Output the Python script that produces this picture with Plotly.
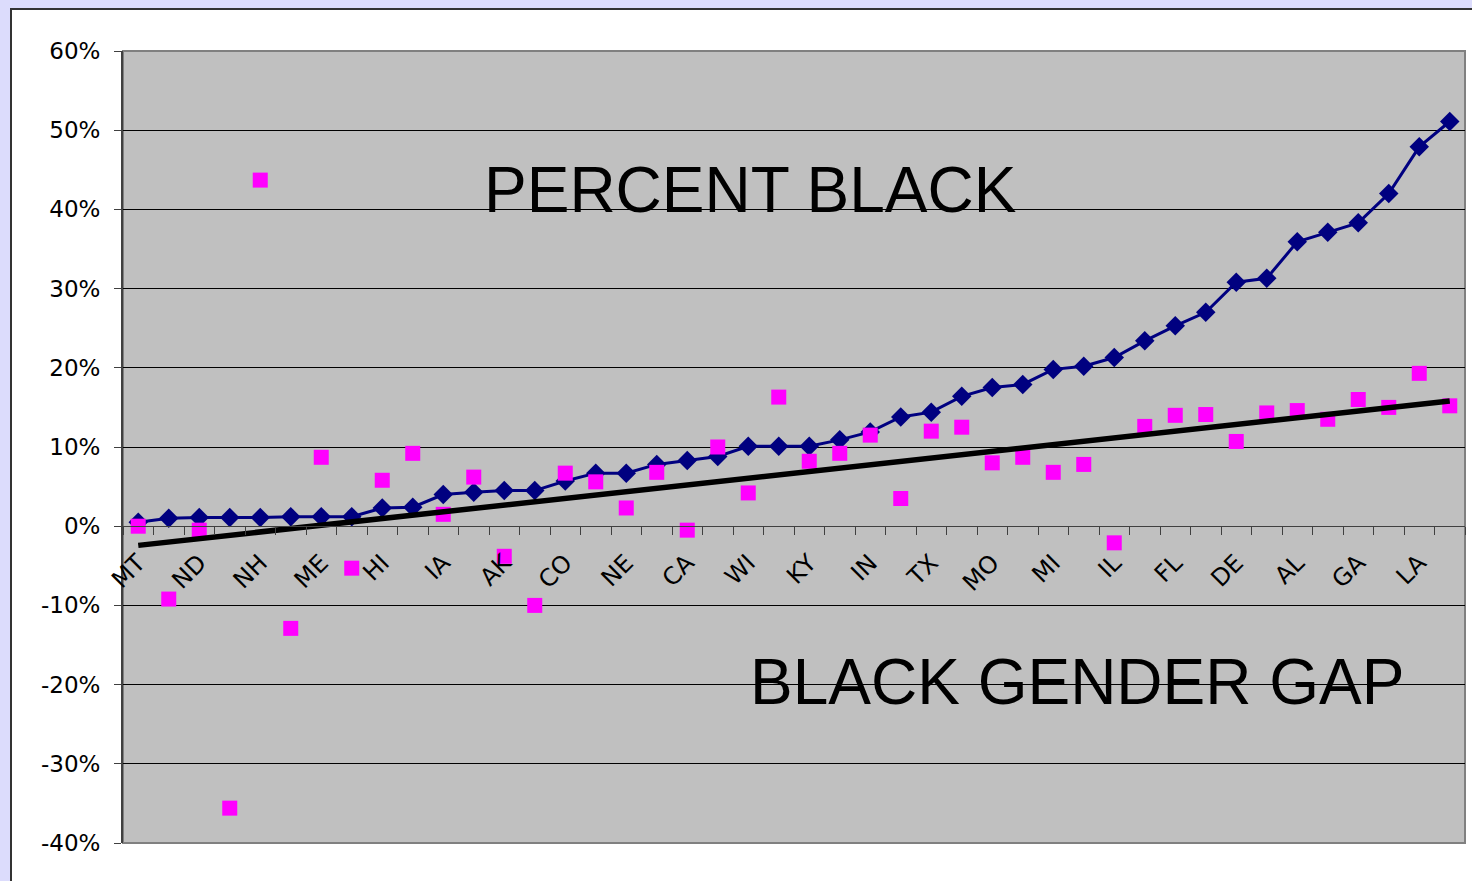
import numpy as np
import plotly.graph_objects as go

# Categories (states sorted by percent Black); only every other one is labelled
states = ["MT", "VT", "ND", "ID", "NH", "UT", "ME", "WY", "HI", "OR",
          "IA", "SD", "AK", "WA", "CO", "NM", "NE", "KS", "CA", "MA",
          "WI", "MN", "KY", "RI", "IN", "OK", "TX", "PA", "MO", "OH",
          "MI", "NJ", "IL", "AR", "FL", "NY", "DE", "TN", "AL", "NC",
          "GA", "SC", "LA", "MS"]
tick_labels = [s if i % 2 == 0 else "" for i, s in enumerate(states)]

# Percent Black (%)
percent_black = [0.5, 1.0, 1.1, 1.1, 1.1, 1.2, 1.2, 1.2, 2.3, 2.4,
                 4.0, 4.3, 4.5, 4.5, 5.7, 6.7, 6.7, 7.8, 8.3, 8.8,
                 10.1, 10.1, 10.1, 10.9, 11.9, 13.8, 14.4, 16.4, 17.5, 17.9,
                 19.8, 20.2, 21.3, 23.4, 25.3, 27.0, 30.8, 31.3, 35.9, 37.1,
                 38.3, 42.0, 47.9, 51.1]

# Black gender gap (%)
gender_gap = [0.0, -9.2, -0.5, -35.6, 43.7, -12.9, 8.7, -5.3, 5.8, 9.2,
              1.5, 6.2, -3.8, -10.0, 6.7, 5.6, 2.3, 6.8, -0.5, 10.0,
              4.2, 16.3, 8.2, 9.2, 11.5, 3.5, 12.0, 12.5, 8.0, 8.7,
              6.8, 7.8, -2.1, 12.6, 14.0, 14.1, 10.7, 14.3, 14.6, 13.5,
              16.0, 15.0, 19.3, 15.2]

y_ticks = [-40, -30, -20, -10, 0, 10, 20, 30, 40, 50, 60]
y_tick_labels = ["-40%", "-30%", "-20%", "-10%", "0%", "10%", "20%",
                 "30%", "40%", "50%", "60%"]

# Linear trendline of the gender gap (as in the spreadsheet's trendline)
idx = np.arange(len(gender_gap))
slope, intercept = np.polyfit(idx, gender_gap, 1)
trend_y = [intercept, intercept + slope * idx[-1]]
trend_x = [states[0], states[-1]]

W, H = 1472, 881
L, R, T, B = 123, 7, 51, 38
pw = W - L - R
ph = H - T - B

fig = go.Figure()
fig.add_trace(go.Scatter(
    x=states, y=percent_black, mode="lines+markers",
    line=dict(color="#000080", width=3),
    marker=dict(symbol="diamond", size=15, color="#000080"),
    name="Percent Black"))
fig.add_trace(go.Scatter(
    x=states, y=gender_gap, mode="markers",
    marker=dict(symbol="square", size=15, color="#FF00FF"),
    name="Black Gender Gap"))
fig.add_trace(go.Scatter(
    x=trend_x, y=trend_y, mode="lines",
    line=dict(color="black", width=5.5),
    name="Trend"))

tickfont = dict(family="DejaVu Sans", size=23, color="black")
xtickfont = dict(family="DejaVu Sans", size=24, color="black")

fig.update_layout(
    width=W, height=H,
    margin=dict(l=L, r=R, t=T, b=B),
    paper_bgcolor="#DCDCFC",
    plot_bgcolor="#C0C0C0",
    showlegend=False,
    xaxis=dict(
        type="category",
        categoryorder="array", categoryarray=states,
        range=[-0.5, len(states) - 0.5],
        anchor="free", position=0.4,
        showgrid=False, zeroline=False,
        showline=True, linecolor="#404040", linewidth=1,
        ticks="outside", ticklen=8, tickcolor="#404040",
        tickson="boundaries",
        tickmode="array", tickvals=states, ticktext=tick_labels,
        tickangle=-45, tickfont=xtickfont,
        ticklabelstandoff=12,
    ),
    yaxis=dict(
        range=[-40, 60],
        tickmode="array", tickvals=y_ticks, ticktext=y_tick_labels,
        showgrid=True, gridcolor="black", gridwidth=1,
        zeroline=False,
        showline=True, linecolor="#404040", linewidth=2,
        ticks="outside", ticklen=7, tickcolor="#404040",
        tickfont=tickfont,
        ticklabelstandoff=9,
    ),
    shapes=[
        dict(type="rect", xref="paper", yref="paper",
             x0=(11 - L) / pw, x1=1.2, y0=-0.2, y1=1 + (T - 9) / ph,
             fillcolor="white", line=dict(color="#333333", width=2),
             layer="below"),
        dict(type="rect", xref="paper", yref="paper",
             x0=0, x1=1, y0=0, y1=1,
             fillcolor="#C0C0C0", line=dict(color="#808080", width=2),
             layer="below"),
    ],
    annotations=[
        dict(text="PERCENT BLACK", xref="paper", yref="paper",
             x=(750 - L) / pw, y=(H - B - 190) / ph,
             showarrow=False, xanchor="center", yanchor="middle",
             font=dict(family="Liberation Sans", size=64, color="black")),
        dict(text="BLACK GENDER GAP", xref="paper", yref="paper",
             x=(1077 - L) / pw, y=(H - B - 682) / ph,
             showarrow=False, xanchor="center", yanchor="middle",
             font=dict(family="Liberation Sans", size=64, color="black")),
    ],
)

fig.write_html(
    "out.html",
    config={"displayModeBar": False},
    post_script="document.body.style.margin='0px';"
                "document.body.style.overflow='hidden';")
